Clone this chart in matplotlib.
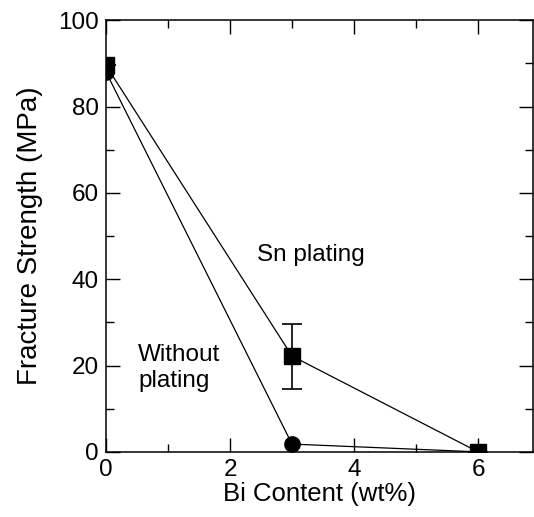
import numpy as np
import matplotlib
matplotlib.use('Agg')
import matplotlib.pyplot as plt
from matplotlib.ticker import MultipleLocator

plt.rcParams['font.family'] = ['Liberation Sans', 'DejaVu Sans']

# data
bi_content = [0, 3, 6]
sn_plating = [89.5, 22.2, 0.0]
sn_err_low = [0.0, 7.6, 0.0]
sn_err_high = [0.0, 7.5, 0.0]
no_plating = [88.0, 1.8, 0.0]

fig = plt.figure(figsize=(5.34, 5.17), dpi=100)
ax = fig.add_axes([0.1985, 0.126, 0.80, 0.835])

ax.plot(bi_content, no_plating, color='black', linewidth=0.9,
        marker='o', markersize=11, markerfacecolor='black', zorder=3)
ax.errorbar(bi_content, sn_plating, yerr=[sn_err_low, sn_err_high],
            color='black', linewidth=0.9, marker='s', markersize=11,
            markerfacecolor='black', capsize=7, capthick=1.2,
            elinewidth=1.2, zorder=4)

ax.text(2.44, 45.6, 'Sn plating', fontsize=17.5, ha='left', va='center')
ax.text(0.52, 19.5, 'Without\nplating', fontsize=17.5, ha='left',
        va='center', multialignment='left', linespacing=1.25)

ax.set_xlim(0, 6.89)
ax.set_ylim(0, 100)
ax.xaxis.set_major_locator(MultipleLocator(2))
ax.xaxis.set_minor_locator(MultipleLocator(1))
ax.yaxis.set_major_locator(MultipleLocator(20))
ax.yaxis.set_minor_locator(MultipleLocator(10))
ax.tick_params(which='both', direction='in', top=True, right=True,
               width=1.0, labelsize=17.5)
ax.tick_params(which='major', length=10, pad=5)
ax.tick_params(which='minor', length=6)
for sp in ax.spines.values():
    sp.set_linewidth(1.1)

ax.set_xlabel('Bi Content (wt%)', fontsize=18.5, labelpad=1)
ax.set_ylabel('Fracture Strength (MPa)', fontsize=20, labelpad=11)

fig.savefig('out.png', dpi=100)
